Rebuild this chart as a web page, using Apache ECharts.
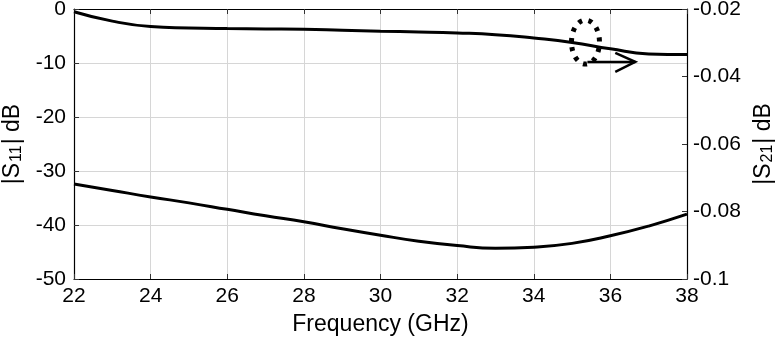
<!DOCTYPE html>
<html>
<head>
<meta charset="utf-8">
<script src="https://cdn.jsdelivr.net/npm/echarts@6/dist/echarts.min.js"></script>
<style>
  html, body { margin: 0; padding: 0; background: #fff; }
  #chart { width: 781px; height: 340px; }
</style>
</head>
<body>
<div id="chart"></div>
<script>
// frequency points (GHz)
const freq = [22, 23, 24, 25, 26, 27, 28, 29, 30, 31, 32, 33, 34, 35, 36, 37, 38];
// |S11| in dB, left axis
const s11 = [-32.4, -33.6, -34.8, -35.9, -37.1, -38.3, -39.4, -40.7, -41.9, -43.0, -43.8, -44.3, -44.1, -43.4, -42.0, -40.2, -38.0];
// |S21| in dB, right axis
const s21 = [-0.0208, -0.0236, -0.0252, -0.0256, -0.0258, -0.0259, -0.0260, -0.0263, -0.0266, -0.0268, -0.0271, -0.0276, -0.0286, -0.0299, -0.0318, -0.0333, -0.0335];

// where the annotation ellipse and arrow sit (data units)
const markerAt = [35.35, -0.0298];    // right axis
const arrowFrom = [35.4, -9.8];       // left axis
const arrowTo = [36.65, -9.8];

const font = 'Liberation Sans, Arial, Helvetica, sans-serif';
const gridColor = '#d6d6d6';

const chart = echarts.init(document.getElementById('chart'));

const fmtRight = v => String(parseFloat(v.toFixed(3)));

const subStyle = { fontFamily: font, fontSize: 16, color: '#000', verticalAlign: 'bottom', padding: [9, 1, 0, 1] };

const option = {
    animation: false,
    backgroundColor: '#fff',
    grid: { left: 74, right: 94, top: 9, bottom: 61, containLabel: false, outerBoundsMode: 'none' },
    xAxis: [
        {
            type: 'value', min: 22, max: 38, interval: 2,
            name: 'Frequency (GHz)', nameLocation: 'middle', nameGap: 34,
            nameTextStyle: { fontFamily: font, fontSize: 23, color: '#000' },
            axisLine: { onZero: false, lineStyle: { color: '#000', width: 1.2 } },
            axisTick: { inside: true, length: 5, lineStyle: { color: '#333' } },
            axisLabel: { fontFamily: font, fontSize: 21, color: '#000', margin: 7 },
            splitLine: { show: true, lineStyle: { color: gridColor, width: 1 } }
        },
        {
            type: 'value', min: 22, max: 38, interval: 2, position: 'top',
            axisLine: { onZero: false, lineStyle: { color: '#000', width: 1.2 } },
            axisTick: { inside: true, length: 5, lineStyle: { color: '#333' } },
            axisLabel: { show: false },
            splitLine: { show: false }
        }
    ],
    yAxis: [
        {
            type: 'value', min: -50, max: 0, interval: 10,
            name: '|S{sub|11}| dB', nameLocation: 'middle', nameGap: 46,
            nameTextStyle: { fontFamily: font, fontSize: 23, color: '#000', rich: { sub: subStyle } },
            axisLine: { onZero: false, lineStyle: { color: '#000', width: 1.2 } },
            axisTick: { inside: true, length: 5, lineStyle: { color: '#333' } },
            axisLabel: { fontFamily: font, fontSize: 21, color: '#000', margin: 8 },
            splitLine: { show: true, lineStyle: { color: gridColor, width: 1 } }
        },
        {
            type: 'value', min: -0.1, max: -0.02, interval: 0.02, position: 'right',
            name: '|S{sub|21}| dB', nameLocation: 'middle', nameGap: 64, nameRotate: 90,
            nameTextStyle: { fontFamily: font, fontSize: 23, color: '#000', rich: { sub: subStyle } },
            axisLine: { onZero: false, lineStyle: { color: '#000', width: 1.2 } },
            axisTick: { inside: true, length: 5, lineStyle: { color: '#333' } },
            axisLabel: { fontFamily: font, fontSize: 21, color: '#000', margin: 6, formatter: fmtRight },
            splitLine: { show: false }
        }
    ],
    series: [
        {
            name: 'S11', type: 'line', yAxisIndex: 0, smooth: 0.5, symbol: 'none',
            data: freq.map((f, i) => [f, s11[i]]),
            lineStyle: { color: '#000', width: 3 }
        },
        {
            name: 'S21', type: 'line', yAxisIndex: 1, smooth: 0.5, symbol: 'none',
            data: freq.map((f, i) => [f, s21[i]]),
            lineStyle: { color: '#000', width: 3 }
        }
    ]
};
chart.setOption(option);

// annotation: dotted ellipse on the S21 curve, arrow pointing to the right axis
const c = chart.convertToPixel({ xAxisIndex: 0, yAxisIndex: 1 }, markerAt);
const a0 = chart.convertToPixel({ xAxisIndex: 0, yAxisIndex: 0 }, arrowFrom);
const a1 = chart.convertToPixel({ xAxisIndex: 0, yAxisIndex: 0 }, arrowTo);
chart.setOption({
    graphic: [
        {
            type: 'ellipse', shape: { cx: c[0], cy: c[1], rx: 14, ry: 22 },
            style: { fill: 'none', stroke: '#000', lineWidth: 5, lineDash: [4, 6.5] }, z: 100
        },
        {
            type: 'line', shape: { x1: a0[0], y1: a0[1], x2: a1[0], y2: a1[1] },
            style: { stroke: '#000', lineWidth: 2.5 }, z: 100
        },
        {
            type: 'polyline', shape: { points: [[a1[0] - 20, a1[1] - 9], [a1[0], a1[1]], [a1[0] - 20, a1[1] + 10]] },
            style: { fill: 'none', stroke: '#000', lineWidth: 2.5 }, z: 100
        }
    ]
});
</script>
</body>
</html>
